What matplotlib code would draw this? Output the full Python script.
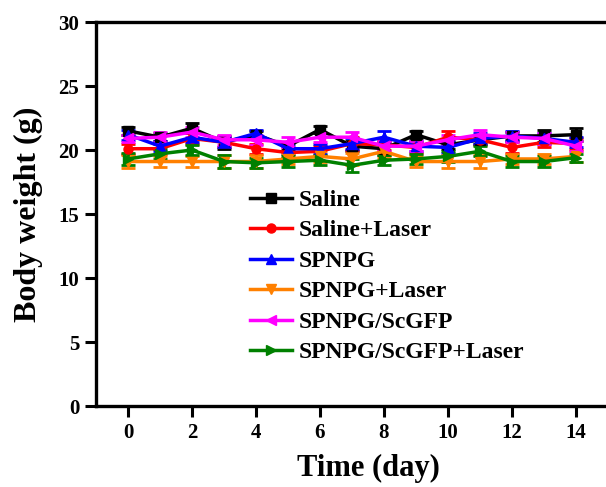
import matplotlib.pyplot as plt
from matplotlib.lines import Line2D
import numpy as np

days = np.arange(15)
labels = ["Saline", "Saline+Laser", "SPNPG", "SPNPG+Laser",
          "SPNPG/ScGFP", "SPNPG/ScGFP+Laser"]

saline = [21.5, 21.0, 21.7, 20.6, 21.2, 20.3, 21.6, 20.3, 20.1, 21.2, 20.4, 20.8, 21.1, 21.1, 21.2]
saline_laser = [20.1, 20.1, 20.9, 20.6, 20.1, 19.8, 19.9, 20.5, 20.4, 20.2, 21.0, 20.8, 20.2, 20.6, 20.5]
spnpg = [21.2, 20.3, 21.0, 20.6, 21.3, 20.1, 20.1, 20.5, 21.0, 20.3, 20.2, 20.9, 21.1, 20.9, 20.6]
spnpg_laser = [19.1, 19.1, 19.1, 19.1, 19.1, 19.3, 19.5, 19.3, 19.9, 19.1, 19.1, 19.1, 19.3, 19.3, 19.5]
scgfp = [20.9, 21.0, 21.4, 20.8, 20.8, 20.6, 21.0, 21.0, 20.3, 20.3, 20.8, 21.2, 21.0, 20.9, 20.3]
scgfp_laser = [19.3, 19.7, 20.0, 19.1, 19.0, 19.1, 19.2, 18.8, 19.2, 19.3, 19.5, 19.9, 19.1, 19.1, 19.4]

err_saline = [0.3, 0.3, 0.4, 0.5, 0.3, 0.3, 0.3, 0.4, 0.5, 0.3, 0.3, 0.3, 0.3, 0.5, 0.5]
err_saline_laser = [0.4, 0.4, 0.4, 0.4, 0.4, 0.4, 0.4, 0.5, 0.4, 0.4, 0.5, 0.4, 0.4, 0.4, 0.4]
err_spnpg = [0.4, 0.4, 0.4, 0.4, 0.3, 0.4, 0.4, 0.4, 0.5, 0.4, 0.4, 0.4, 0.4, 0.4, 0.4]
err_spnpg_laser = [0.5, 0.4, 0.4, 0.5, 0.5, 0.4, 0.4, 0.5, 0.5, 0.4, 0.5, 0.5, 0.4, 0.4, 0.4]
err_scgfp = [0.3, 0.4, 0.4, 0.4, 0.4, 0.4, 0.4, 0.4, 0.4, 0.4, 0.4, 0.4, 0.4, 0.4, 0.4]
err_scgfp_laser = [0.5, 0.4, 0.4, 0.5, 0.4, 0.4, 0.4, 0.5, 0.4, 0.4, 0.4, 0.4, 0.4, 0.4, 0.3]

series = [saline, saline_laser, spnpg, spnpg_laser, scgfp, scgfp_laser]
errors = [err_saline, err_saline_laser, err_spnpg, err_spnpg_laser, err_scgfp, err_scgfp_laser]
colors = ["black", "#ff0000", "#0000ff", "#ff8000", "#ff00ff", "#008000"]
markers = ["s", "o", "^", "v", "<", ">"]

plt.rcParams["font.family"] = ["Liberation Serif", "DejaVu Serif"]
plt.rcParams["font.weight"] = "bold"

fig = plt.figure(figsize=(6.06, 4.87), dpi=100)
ax = fig.add_axes([96 / 606, 81 / 487, 544 / 606, 384 / 487])

handles = []
for y, e, c, m, lab in zip(series, errors, colors, markers, labels):
    ax.errorbar(days, y, yerr=e, color=c, marker=m, markersize=6.5, lw=2.5,
                elinewidth=2, capsize=5, capthick=2)
    handles.append(Line2D([], [], color=c, marker=m, markersize=6.5, lw=2.5, label=lab))

ax.set_xlim(-1, 16)
ax.set_ylim(0, 30)
ax.set_xticks(range(0, 15, 2))
ax.set_yticks(range(0, 31, 5))
for s in ax.spines.values():
    s.set_linewidth(2.4)
ax.tick_params(direction="out", length=8, width=2.2, labelsize=15, pad=4)
for t in ax.get_xticklabels() + ax.get_yticklabels():
    t.set_fontweight("bold")

ax.set_xlabel("Time (day)", fontsize=22, fontweight="bold", labelpad=8)
ax.set_ylabel("Body weight (g)", fontsize=23, fontweight="bold", labelpad=11)

ax.legend(handles=handles, loc="upper left", bbox_to_anchor=(229 / 606, 1 - 168 / 487),
          bbox_transform=fig.transFigure, frameon=False,
          handlelength=1.75, handletextpad=0.3, labelspacing=0.38,
          prop={"weight": "bold", "size": 17})

fig.savefig("out.png", dpi=100)
